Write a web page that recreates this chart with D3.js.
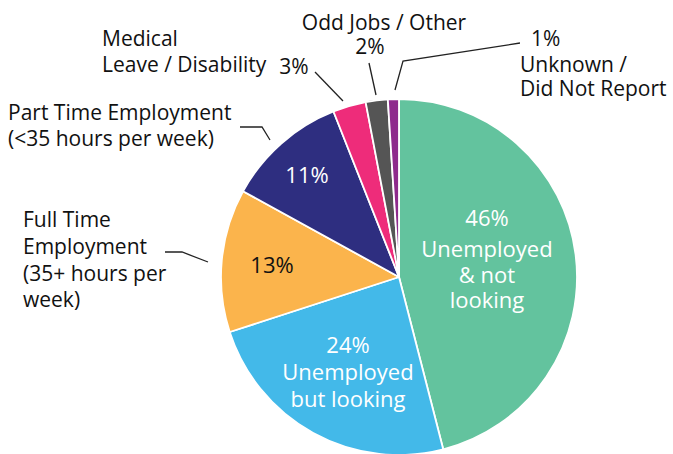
<!DOCTYPE html>
<html>
<head>
<meta charset="utf-8">
<script src="https://cdn.jsdelivr.net/npm/d3@7"></script>
<style>
  html, body { margin: 0; padding: 0; background: #fff; }
  svg { display: block; font-family: "Open Sans", sans-serif; }
</style>
</head>
<body>
<svg id="chart" width="673" height="454"></svg>
<script>
// ---- data ----
const categories = [
  "Unemployed & not looking",
  "Unemployed but looking",
  "Full Time Employment (35+ hours per week)",
  "Part Time Employment (<35 hours per week)",
  "Medical Leave / Disability",
  "Odd Jobs / Other",
  "Unknown / Did Not Report"
];
const values = [46, 24, 13, 11, 3, 2, 1];
const colors = ["#63c39e", "#43b9e9", "#fbb44c", "#2e2e80", "#ee2c7a", "#555555", "#8e2a8c"];

const svg = d3.select("#chart");
const cx = 399, cy = 277, r = 178;

const pie = d3.pie().sort(null).value(d => d.value);
const arc = d3.arc().innerRadius(0).outerRadius(r);
const data = categories.map((c, i) => ({ cat: c, value: values[i], color: colors[i] }));

const g = svg.append("g").attr("transform", `translate(${cx},${cy})`);
g.selectAll("path").data(pie(data)).join("path")
  .attr("d", arc)
  .attr("fill", d => d.data.color)
  .attr("stroke", "#fff")
  .attr("stroke-width", 1.8)
  .attr("stroke-linejoin", "round");

// ---- inside labels ----
function lines(x, ys, texts, fill, size, anchor) {
  const t = svg.append("text").attr("fill", fill).attr("font-size", size)
    .attr("text-anchor", anchor || "middle");
  texts.forEach((s, i) => t.append("tspan").attr("x", x).attr("y", ys[i]).text(s));
}
const pct = v => v + "%";
lines(487, [226, 257, 283, 308], [pct(values[0]), "Unemployed", "& not", "looking"], "#fff", 22);
lines(348, [353, 380, 407], [pct(values[1]), "Unemployed", "but looking"], "#fff", 22);
lines(272, [273], [pct(values[2])], "#111", 22);
lines(307, [183], [pct(values[3])], "#fff", 22);

// ---- outside labels ----
lines(23, [227, 254, 281, 307], ["Full Time", "Employment", "(35+ hours per", "week)"], "#111", 21, "start");
lines(8, [120, 146], ["Part Time Employment", "(<35 hours per week)"], "#111", 21, "start");
lines(102, [46, 72], ["Medical", "Leave / Disability"], "#111", 21, "start");
lines(294, [74], [pct(values[4])], "#111", 21);
lines(384, [30], ["Odd Jobs / Other"], "#111", 21);
lines(370, [54], [pct(values[5])], "#111", 21);
lines(531, [46], [pct(values[6])], "#111", 21, "start");
lines(520, [72, 96], ["Unknown /", "Did Not Report"], "#111", 21, "start");

// ---- leader lines ----
const leaders = [
  [[165, 252], [182, 252], [208, 262]],
  [[240, 127], [262, 127], [270, 140]],
  [[315, 72], [343, 101]],
  [[369, 63], [376, 95]],
  [[520, 43], [403, 61], [395, 90]]
];
svg.selectAll("path.leader").data(leaders).join("path")
  .attr("class", "leader")
  .attr("d", d3.line())
  .attr("fill", "none")
  .attr("stroke", "#222")
  .attr("stroke-width", 1.3);
</script>
</body>
</html>
